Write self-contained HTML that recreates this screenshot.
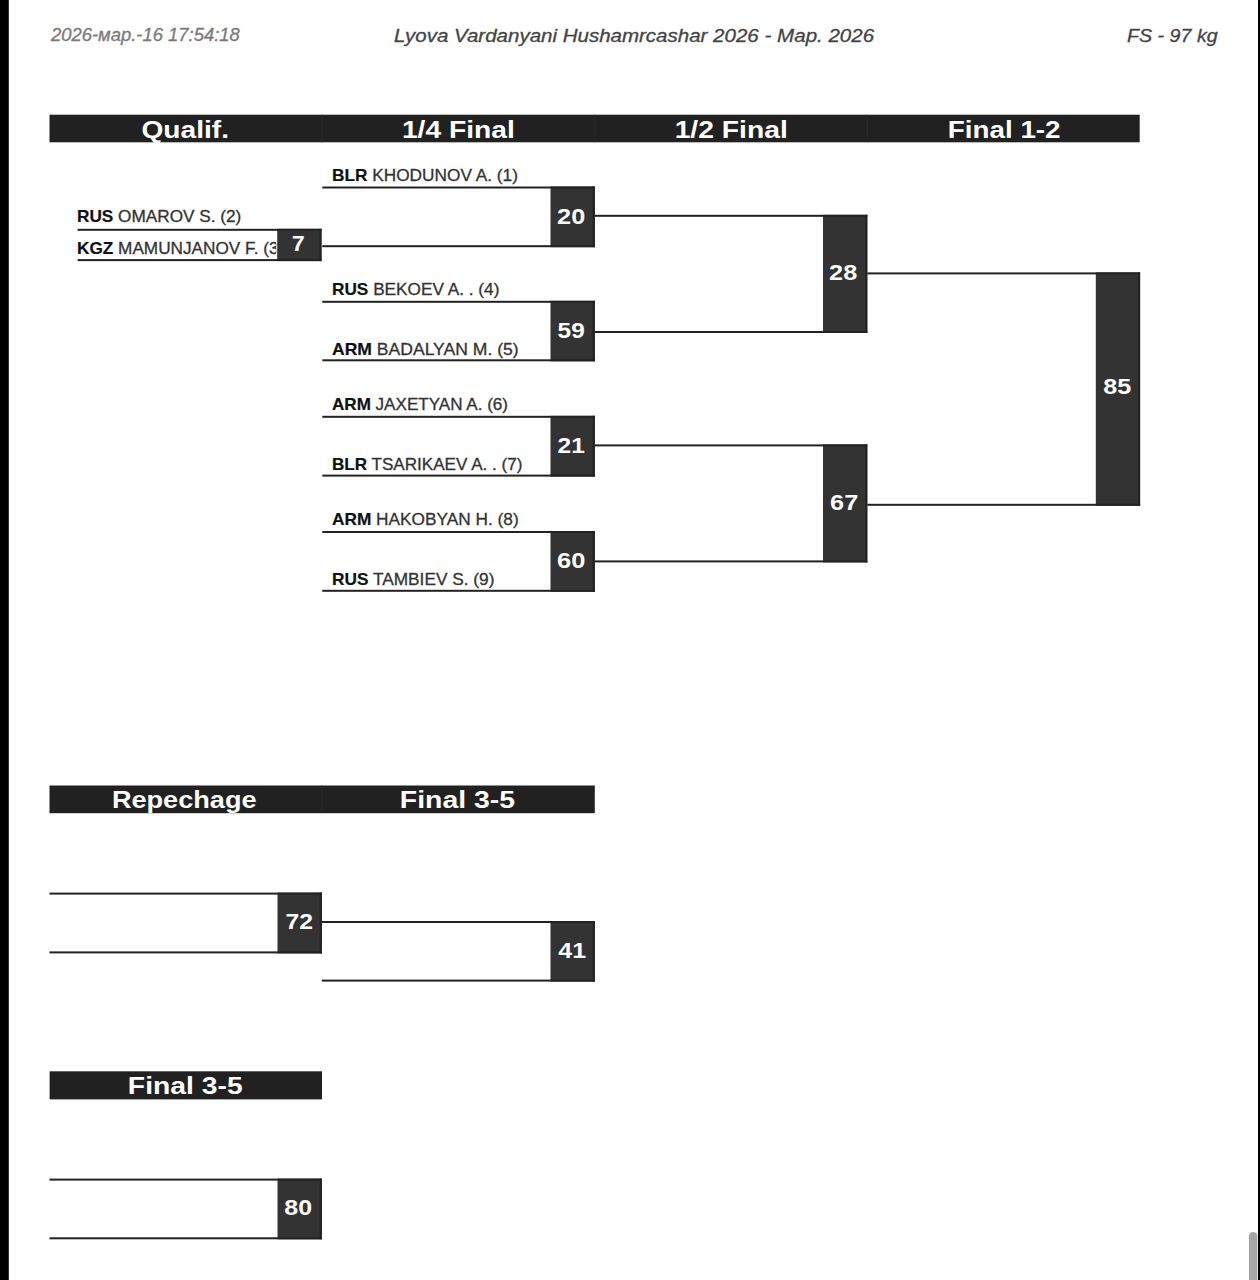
<!DOCTYPE html>
<html><head><meta charset="utf-8"><style>
html,body{margin:0;padding:0}
body{width:1260px;height:1280px;overflow:hidden;background:#fff;position:relative;font-family:"Liberation Sans",sans-serif}
div{position:absolute;box-sizing:border-box}
.hd{height:30px;color:#fff;font-weight:bold;font-size:24px;line-height:30px;text-align:center;white-space:nowrap;transform-origin:center}
.num{color:#fff;font-weight:bold;font-size:22px;line-height:24px;text-align:center;transform-origin:center;white-space:nowrap}
.nm{font-size:17px;line-height:18px;color:#333;white-space:nowrap;transform-origin:0 0;-webkit-text-stroke:0.3px #333}
.nm b{color:#111;-webkit-text-stroke:0.2px #111}
.top{font-size:18px;line-height:20px;font-style:italic;white-space:nowrap;transform-origin:0 0;-webkit-text-stroke:0.3px currentColor}
</style></head><body>
<svg width="1260" height="1280" viewBox="0 0 1260 1280" style="position:absolute;left:0;top:0">
<rect x="0" y="0" width="8.8" height="1280" fill="#000"/>
<rect x="1258" y="0" width="2" height="1280" fill="#000"/>
<rect x="1249" y="1232" width="8.4" height="60" rx="4.2" fill="#a6a6a6"/>
<rect x="49.50" y="114.70" width="1090.20" height="27.60" fill="#212121"/>
<rect x="321.50" y="114.70" width="1.00" height="27.60" fill="#2c2c2c"/>
<rect x="594.30" y="114.70" width="1.00" height="27.60" fill="#2c2c2c"/>
<rect x="866.80" y="114.70" width="1.00" height="27.60" fill="#2c2c2c"/>
<rect x="49.50" y="785.50" width="545.30" height="27.70" fill="#212121"/>
<rect x="321.50" y="785.50" width="1.00" height="27.70" fill="#2c2c2c"/>
<rect x="49.60" y="1071.30" width="272.40" height="28.10" fill="#212121"/>
<rect x="277.20" y="228.80" width="44.30" height="32.30" fill="#333333"/>
<rect x="319.50" y="228.80" width="2.00" height="32.30" fill="#222222"/>
<rect x="77.60" y="228.80" width="243.90" height="2.00" fill="#222222"/>
<rect x="77.60" y="259.10" width="243.90" height="2.00" fill="#222222"/>
<rect x="550.50" y="186.50" width="44.30" height="60.70" fill="#333333"/>
<rect x="592.80" y="186.50" width="2.00" height="60.70" fill="#222222"/>
<rect x="322.30" y="186.50" width="272.50" height="2.00" fill="#222222"/>
<rect x="322.30" y="245.20" width="272.50" height="2.00" fill="#222222"/>
<rect x="550.50" y="300.80" width="44.30" height="60.50" fill="#333333"/>
<rect x="592.80" y="300.80" width="2.00" height="60.50" fill="#222222"/>
<rect x="322.30" y="300.80" width="272.50" height="2.00" fill="#222222"/>
<rect x="322.30" y="359.30" width="272.50" height="2.00" fill="#222222"/>
<rect x="550.50" y="415.80" width="44.30" height="60.80" fill="#333333"/>
<rect x="592.80" y="415.80" width="2.00" height="60.80" fill="#222222"/>
<rect x="322.30" y="415.80" width="272.50" height="2.00" fill="#222222"/>
<rect x="322.30" y="474.60" width="272.50" height="2.00" fill="#222222"/>
<rect x="550.50" y="531.00" width="44.30" height="60.80" fill="#333333"/>
<rect x="592.80" y="531.00" width="2.00" height="60.80" fill="#222222"/>
<rect x="322.30" y="531.00" width="272.50" height="2.00" fill="#222222"/>
<rect x="322.30" y="589.80" width="272.50" height="2.00" fill="#222222"/>
<rect x="823.00" y="214.80" width="44.30" height="118.20" fill="#333333"/>
<rect x="865.30" y="214.80" width="2.00" height="118.20" fill="#222222"/>
<rect x="594.80" y="214.80" width="272.50" height="2.00" fill="#222222"/>
<rect x="594.80" y="331.00" width="272.50" height="2.00" fill="#222222"/>
<rect x="823.00" y="444.40" width="44.30" height="118.00" fill="#333333"/>
<rect x="865.30" y="444.40" width="2.00" height="118.00" fill="#222222"/>
<rect x="594.80" y="444.40" width="272.50" height="2.00" fill="#222222"/>
<rect x="594.80" y="560.40" width="272.50" height="2.00" fill="#222222"/>
<rect x="1095.80" y="272.40" width="44.30" height="233.40" fill="#333333"/>
<rect x="1138.10" y="272.40" width="2.00" height="233.40" fill="#222222"/>
<rect x="867.30" y="272.40" width="272.80" height="2.00" fill="#222222"/>
<rect x="867.30" y="503.80" width="272.80" height="2.00" fill="#222222"/>
<rect x="277.50" y="892.60" width="44.30" height="60.80" fill="#333333"/>
<rect x="319.80" y="892.60" width="2.00" height="60.80" fill="#222222"/>
<rect x="49.50" y="892.60" width="272.30" height="2.00" fill="#222222"/>
<rect x="49.50" y="951.40" width="272.30" height="2.00" fill="#222222"/>
<rect x="550.50" y="921.00" width="44.30" height="60.60" fill="#333333"/>
<rect x="592.80" y="921.00" width="2.00" height="60.60" fill="#222222"/>
<rect x="321.80" y="921.00" width="273.00" height="2.00" fill="#222222"/>
<rect x="321.80" y="979.60" width="273.00" height="2.00" fill="#222222"/>
<rect x="277.50" y="1178.60" width="44.30" height="60.70" fill="#333333"/>
<rect x="319.80" y="1178.60" width="2.00" height="60.70" fill="#222222"/>
<rect x="49.50" y="1178.60" width="272.30" height="2.00" fill="#222222"/>
<rect x="49.50" y="1237.30" width="272.30" height="2.00" fill="#222222"/>
</svg>
<div id="h0" class="hd" style="left:49.00px;top:115px;transform:scaleX(1.1731);width:272.5px">Qualif.</div>
<div id="h1" class="hd" style="left:322.40px;top:115px;transform:scaleX(1.1763);width:272.79999999999995px">1/4 Final</div>
<div id="h2" class="hd" style="left:595.40px;top:115px;transform:scaleX(1.1788);width:272.5px">1/2 Final</div>
<div id="h3" class="hd" style="left:867.60px;top:115px;transform:scaleX(1.1579);width:272.4000000000001px">Final 1-2</div>
<div id="r0" class="hd" style="left:48.10px;top:785.3px;transform:scaleX(1.1302);width:272.5px">Repechage</div>
<div id="r1" class="hd" style="left:320.60px;top:785.3px;transform:scaleX(1.1834);width:272.79999999999995px">Final 3-5</div>
<div id="f0" class="hd" style="left:48.60px;top:1070.5px;transform:scaleX(1.1790);width:272.5px">Final 3-5</div>
<div id="date" class="top" style="left:50.58px;top:25.3px;transform:scaleX(1.0230);color:#7a7a7a">2026-мар.-16 17:54:18</div>
<div id="title" class="top" style="left:393.66px;top:25.9px;transform:scaleX(1.1390);color:#444">Lyova Vardanyani Hushamrcashar 2026 - Мар. 2026</div>
<div id="fs" class="top" style="left:1126.51px;top:25.5px;transform:scaleX(1.0927);color:#444">FS - 97 kg</div>
<div id="num7" class="num" style="left:275.70px;top:231.90px;width:44.3px;transform:scaleX(1.0548)">7</div>
<div id="n2" class="nm" style="left:77.19px;top:208.3px;transform:scaleX(1.0113);"><b>RUS</b> OMAROV S. (2)</div>
<div id="num20" class="num" style="left:549.40px;top:205.10px;width:44.3px;transform:scaleX(1.1479)">20</div>
<div id="n1" class="nm" style="left:332.19px;top:166.6px;transform:scaleX(1.0144);"><b>BLR</b> KHODUNOV A. (1)</div>
<div id="num59" class="num" style="left:549.30px;top:318.50px;width:44.3px;transform:scaleX(1.1054)">59</div>
<div id="n4" class="nm" style="left:332.19px;top:280.5px;transform:scaleX(1.0123);"><b>RUS</b> BEKOEV A. . (4)</div>
<div id="n5" class="nm" style="left:332.17px;top:340.7px;transform:scaleX(1.0324);"><b>ARM</b> BADALYAN M. (5)</div>
<div id="num21" class="num" style="left:548.80px;top:433.70px;width:44.3px;transform:scaleX(1.1094)">21</div>
<div id="n6" class="nm" style="left:332.20px;top:395.5px;transform:scaleX(1.0035);"><b>ARM</b> JAXETYAN A. (6)</div>
<div id="n7" class="nm" style="left:332.20px;top:455.6px;transform:scaleX(1.0043);"><b>BLR</b> TSARIKAEV A. . (7)</div>
<div id="num60" class="num" style="left:549.30px;top:548.70px;width:44.3px;transform:scaleX(1.1567)">60</div>
<div id="n8" class="nm" style="left:332.18px;top:511.1px;transform:scaleX(1.0154);"><b>ARM</b> HAKOBYAN H. (8)</div>
<div id="n9" class="nm" style="left:332.18px;top:571.2px;transform:scaleX(1.0152);"><b>RUS</b> TAMBIEV S. (9)</div>
<div id="n3" class="nm" style="left:77.19px;top:239.9px;transform:scaleX(1.0113);width:196.6px;overflow:hidden"><b>KGZ</b> MAMUNJANOV F. (3)</div>
<div id="num28" class="num" style="left:821.10px;top:260.80px;width:44.3px;transform:scaleX(1.1480)">28</div>
<div id="num67" class="num" style="left:821.70px;top:490.70px;width:44.3px;transform:scaleX(1.1479)">67</div>
<div id="num85" class="num" style="left:1094.70px;top:374.50px;width:44.3px;transform:scaleX(1.1425)">85</div>
<div id="num72" class="num" style="left:277.10px;top:910.10px;width:44.3px;transform:scaleX(1.1220)">72</div>
<div id="num41" class="num" style="left:550.10px;top:938.50px;width:44.3px;transform:scaleX(1.1336)">41</div>
<div id="num80" class="num" style="left:276.00px;top:1196.10px;width:44.3px;transform:scaleX(1.1320)">80</div>
</body></html>
